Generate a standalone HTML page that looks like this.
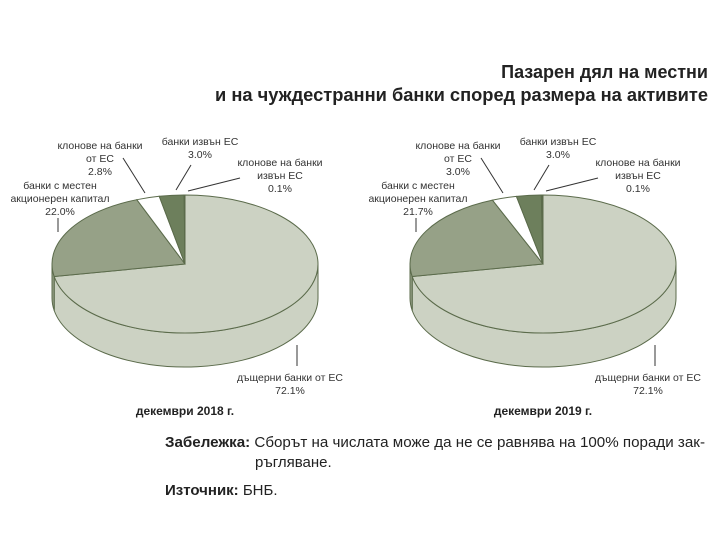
<!DOCTYPE html>
<html><head><meta charset="utf-8"><style>
body{margin:0;background:#fff;width:715px;height:559px;overflow:hidden}
svg{display:block}
text{font-family:"Liberation Sans","DejaVu Sans",sans-serif;fill:#333}
</style></head><body>
<svg id="s" width="715" height="559" viewBox="0 0 715 559">
<text x="708" y="78" text-anchor="end" font-size="18" font-weight="bold" style="fill:#222">Пазарен дял на местни</text>
<text x="708" y="101" text-anchor="end" font-size="18" font-weight="bold" style="fill:#222" textLength="493" lengthAdjust="spacingAndGlyphs">и на чуждестранни банки според размера на активите</text>
<g id="p1"></g><g id="p2"></g>
<g font-size="10.5" text-anchor="middle">
<text x="100" y="149">клонове на банки</text><text x="100" y="162">от ЕС</text><text x="100" y="175">2.8%</text>
<text x="200" y="145">банки извън ЕС</text><text x="200" y="158">3.0%</text>
<text x="280" y="166">клонове на банки</text><text x="280" y="179">извън ЕС</text><text x="280" y="192">0.1%</text>
<text x="60" y="189">банки с местен</text><text x="60" y="202">акционерен капитал</text><text x="60" y="215">22.0%</text>
<text x="290" y="381">дъщерни банки от ЕС</text><text x="290" y="394">72.1%</text>
<text x="458" y="149">клонове на банки</text><text x="458" y="162">от ЕС</text><text x="458" y="175">3.0%</text>
<text x="558" y="145">банки извън ЕС</text><text x="558" y="158">3.0%</text>
<text x="638" y="166">клонове на банки</text><text x="638" y="179">извън ЕС</text><text x="638" y="192">0.1%</text>
<text x="418" y="189">банки с местен</text><text x="418" y="202">акционерен капитал</text><text x="418" y="215">21.7%</text>
<text x="648" y="381">дъщерни банки от ЕС</text><text x="648" y="394">72.1%</text>
</g>
<g stroke="#333" stroke-width="1">
<line x1="145" y1="193" x2="123" y2="158"/><line x1="176" y1="190" x2="191" y2="165"/><line x1="188" y1="191" x2="240" y2="178"/><line x1="58" y1="232" x2="58" y2="218"/><line x1="297" y1="345" x2="297" y2="366"/>
<line x1="503" y1="193" x2="481" y2="158"/><line x1="534" y1="190" x2="549" y2="165"/><line x1="546" y1="191" x2="598" y2="178"/><line x1="416" y1="232" x2="416" y2="218"/><line x1="655" y1="345" x2="655" y2="366"/>
</g>
<text x="185" y="415" text-anchor="middle" font-size="12" font-weight="bold" style="fill:#222">декември 2018 г.</text>
<text x="543" y="415" text-anchor="middle" font-size="12" font-weight="bold" style="fill:#222">декември 2019 г.</text>
<g font-size="15">
<text x="165" y="447" style="fill:#222" textLength="540" lengthAdjust="spacingAndGlyphs"><tspan font-weight="bold">Забележка:</tspan> Сборът на числата може да не се равнява на 100% поради зак-</text>
<text x="255" y="467" style="fill:#222">ръгляване.</text>
<text x="165" y="495" style="fill:#222"><tspan font-weight="bold">Източник:</tspan> БНБ.</text>
</g>
</svg>
<script>
function pie(id,cx,fr){
 var cy=264,rx=133,ry=69,d=34,g=document.getElementById(id),h='';
 var cols=['#ccd2c3','#96a187','#ffffff','#6d7f5c','#4f6040'];
 function P(t){t=t*Math.PI/180;return [cx+rx*Math.sin(t),cy-ry*Math.cos(t)];}
 var st='stroke="#5b6b4b" stroke-width="1"';
 var a0=0,angs=[];fr.forEach(function(f){angs.push([a0,a0+f*3.6]);a0+=f*3.6;});
 angs.forEach(function(a,i){
  var s=Math.max(a[0],90),e=Math.min(a[1],270);if(e<=s)return;
  var p=P(s),q=P(e);
  h+='<path d="M'+p[0]+','+p[1]+' A'+rx+','+ry+' 0 0 1 '+q[0]+','+q[1]+' L'+q[0]+','+(q[1]+d)+' A'+rx+','+ry+' 0 0 0 '+p[0]+','+(p[1]+d)+'Z" fill="'+cols[i]+'" '+st+'/>';
 });
 angs.forEach(function(a,i){
  var p=P(a[0]),q=P(a[1]),l=(a[1]-a[0])>180?1:0;
  h+='<path d="M'+cx+','+cy+' L'+p[0]+','+p[1]+' A'+rx+','+ry+' 0 '+l+' 1 '+q[0]+','+q[1]+'Z" fill="'+cols[i]+'" '+st+'/>';
 });
 g.innerHTML=h;
}
pie('p1',185,[72.1,22.0,2.8,3.0,0.1]);
pie('p2',543,[72.1,21.7,3.0,3.0,0.1]);
</script>
</body></html>
